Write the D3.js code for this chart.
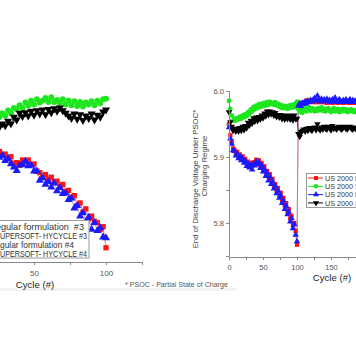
<!DOCTYPE html>
<html><head><meta charset="utf-8">
<script src="https://cdn.jsdelivr.net/npm/d3@7"></script>
<style>body{margin:0;background:#fff;}svg{display:block;font-family:"Liberation Sans",Arial,sans-serif;}text{white-space:pre;}</style>
</head><body>
<svg id="c" width="356" height="364"></svg>
<script>
// ---------- DATA ----------
const leftCycles = d3.range(0, 101, 2);
const leftRegular3 = [5.950,5.942,5.933,5.931,5.926,5.928,5.923,5.925,5.919,5.922,5.916,5.919,5.913,5.916,5.910,5.912,5.905,5.908,5.898,5.899,5.895,5.903,5.900,5.903,5.896,5.897,5.886,5.884,5.878,5.881,5.874,5.877,5.869,5.871,5.863,5.866,5.855,5.857,5.846,5.849,5.834,5.838,5.824,5.829,5.814,5.818,5.810,5.808,5.798,5.802,5.770];
const leftSuper3 = [5.975,5.963,5.964,5.958,5.963,5.960,5.965,5.962,5.967,5.964,5.969,5.966,5.971,5.968,5.974,5.970,5.978,5.974,5.982,5.980,5.986,5.982,5.990,5.986,5.993,5.987,5.995,5.990,5.993,5.997,5.991,5.998,5.991,5.994,5.989,5.995,5.987,5.993,5.986,5.992,5.985,5.991,5.984,5.990,5.987,5.992,5.986,5.993,5.989,5.995,5.996];
const leftRegular4 = [5.945,5.933,5.932,5.924,5.926,5.920,5.922,5.916,5.919,5.913,5.916,5.910,5.913,5.907,5.910,5.902,5.905,5.897,5.892,5.887,5.895,5.896,5.901,5.894,5.895,5.886,5.886,5.872,5.876,5.866,5.870,5.862,5.868,5.856,5.861,5.852,5.853,5.843,5.845,5.830,5.834,5.818,5.823,5.810,5.816,5.798,5.808,5.796,5.800,5.786,5.785];
const leftSuper4 = [5.965,5.953,5.952,5.946,5.951,5.948,5.953,5.949,5.954,5.951,5.956,5.952,5.957,5.953,5.958,5.955,5.962,5.958,5.968,5.964,5.974,5.969,5.975,5.970,5.977,5.971,5.978,5.973,5.979,5.972,5.980,5.975,5.981,5.977,5.982,5.978,5.974,5.970,5.966,5.973,5.965,5.972,5.963,5.970,5.966,5.973,5.964,5.971,5.968,5.976,5.979];
const leftLabels = ["Regular formulation  #3","SUPERSOFT- HYCYCLE #3","Regular formulation #4","SUPERSOFT- HYCYCLE #4"];
const leftTicks = [50, 100];

const rightCycles = d3.range(0, 191, 2);
const rightRegular1 = [5.950,5.933,5.924,5.913,5.911,5.905,5.908,5.901,5.904,5.898,5.901,5.894,5.897,5.890,5.893,5.888,5.891,5.886,5.892,5.891,5.896,5.893,5.895,5.888,5.891,5.884,5.886,5.878,5.879,5.871,5.874,5.865,5.867,5.857,5.859,5.850,5.853,5.843,5.846,5.835,5.838,5.827,5.830,5.818,5.821,5.807,5.811,5.797,5.800,5.788,5.767,
 5.982,5.980,5.981,5.982,5.983,5.982,5.984,5.986,5.985,5.984,5.983,5.985,5.984,5.983,5.985,5.984,5.983,5.984,5.985,5.983,5.984,5.982,5.983,5.984,5.983,5.982,5.983,5.984,5.983,5.982,5.983,5.984,5.983,5.982,5.983,5.984,5.983,5.982,5.983,5.982,5.983,5.982,5.983,5.982,5.983];
const rightSuper1 = [5.985,5.973,5.963,5.955,5.958,5.955,5.959,5.957,5.961,5.958,5.963,5.960,5.965,5.962,5.968,5.965,5.972,5.969,5.976,5.972,5.978,5.974,5.980,5.976,5.981,5.977,5.982,5.978,5.983,5.979,5.984,5.980,5.982,5.979,5.983,5.978,5.981,5.976,5.979,5.974,5.978,5.974,5.977,5.973,5.978,5.974,5.979,5.975,5.980,5.976,5.984,
 5.972,5.968,5.973,5.967,5.971,5.974,5.969,5.972,5.975,5.970,5.974,5.971,5.969,5.973,5.970,5.974,5.971,5.975,5.970,5.973,5.969,5.972,5.974,5.970,5.968,5.972,5.974,5.969,5.971,5.973,5.968,5.972,5.969,5.973,5.970,5.972,5.968,5.971,5.969,5.972,5.970,5.968,5.971,5.969,5.970];
const rightRegular2 = [5.945,5.928,5.920,5.910,5.909,5.902,5.905,5.898,5.901,5.895,5.898,5.891,5.894,5.886,5.890,5.884,5.888,5.881,5.889,5.887,5.893,5.889,5.892,5.883,5.887,5.878,5.882,5.871,5.876,5.864,5.870,5.859,5.863,5.852,5.856,5.845,5.849,5.838,5.842,5.830,5.834,5.821,5.826,5.813,5.817,5.802,5.807,5.792,5.798,5.782,5.772,
 5.978,5.981,5.977,5.982,5.980,5.984,5.981,5.985,5.983,5.986,5.984,5.987,5.989,5.985,5.993,5.987,5.984,5.988,5.985,5.987,5.984,5.988,5.985,5.986,5.983,5.987,5.984,5.990,5.985,5.983,5.987,5.985,5.983,5.986,5.984,5.987,5.983,5.985,5.987,5.983,5.986,5.984,5.985,5.983,5.985];
const rightSuper2 = [5.968,5.953,5.946,5.940,5.943,5.939,5.943,5.939,5.944,5.940,5.946,5.941,5.947,5.944,5.952,5.948,5.955,5.951,5.959,5.954,5.960,5.955,5.961,5.957,5.963,5.959,5.966,5.962,5.969,5.964,5.969,5.965,5.968,5.963,5.967,5.961,5.964,5.960,5.964,5.958,5.963,5.957,5.962,5.958,5.963,5.957,5.962,5.956,5.963,5.958,5.958,
 5.935,5.931,5.938,5.940,5.942,5.939,5.943,5.940,5.944,5.942,5.940,5.944,5.945,5.941,5.950,5.943,5.941,5.945,5.942,5.946,5.943,5.942,5.946,5.944,5.941,5.947,5.943,5.945,5.942,5.944,5.946,5.943,5.942,5.945,5.946,5.943,5.942,5.945,5.946,5.943,5.942,5.945,5.943,5.944,5.942];
const rightLabels = ["US 2000 Regular formulation #1","US 2000 SUPERSOFT- HYCYCLE #1","US 2000 Regular formulation #2","US 2000 SUPERSOFT- HYCYCLE #2"];
const rightXTicks = [0, 50, 100, 150, 200];
const rightYTicks = [5.8, 5.9, 6.0];
const colors = ["#ff1414", "#1ee61e", "#1a1aff", "#000000"];
const symbols = [d3.symbolSquare, d3.symbolCircle, d3.symbolTriangle, d3.symbolTriangle];
const yTitle1 = "End of Discharge Voltage Under PSOC*";
const yTitle2 = "Charging Regime";
const footnote = "* PSOC - Partial State of Charge";

// ---------- DRAW ----------
const svg = d3.select("#c");
const axisCol = "#8a8a8a", txtCol = "#3a3a3a";

svg.append("rect").attr("x",0).attr("y",288).attr("width",236).attr("height",3).attr("fill","#f3f3f3");

function drawSeries(g, x, y, cycles, series, size, lineW) {
  series.forEach((vals, i) => {
    const pts = cycles.map((c, k) => [c, vals[k]]);
    g.append("path").datum(pts)
      .attr("d", d3.line().x(d => x(d[0])).y(d => y(d[1])))
      .attr("fill","none").attr("stroke", i===2 ? "#8c7de6" : colors[i])
      .attr("stroke-opacity", 0.6).attr("stroke-width", lineW);
  });
  series.forEach((vals, i) => {
    const sym = d3.symbol().type(symbols[i]).size(size);
    g.selectAll(null).data(cycles.map((c,k)=>[c, vals[k]])).enter().append("path")
      .attr("d", sym)
      .attr("transform", d => `translate(${x(d[0])},${y(d[1])})${i===3?" rotate(180)":""}`)
      .attr("fill", colors[i]);
  });
}

// ===== LEFT CHART =====
const xL = d3.scaleLinear().domain([0,125]).range([-38,142]);
const yL = d3.scaleLinear().domain([5.75,6.0]).range([261,96]);
const gL = svg.append("g");
drawSeries(gL, xL, yL, leftCycles, [leftRegular3, leftSuper3, leftRegular4, leftSuper4], 28, 1);
const axL = gL.append("g").attr("transform","translate(0,262)")
  .call(d3.axisBottom(xL).tickValues([25,50,75,100,125]).tickSize(3).tickFormat(d => leftTicks.includes(d) ? d : ""));
axL.select(".domain").attr("stroke",axisCol);
axL.selectAll("line").attr("stroke",axisCol);
axL.selectAll("text").attr("fill","#555").attr("font-size","8px").attr("dy","0.95em");

const lg = gL.append("g");
lg.append("rect").attr("x",-20).attr("y",220.5).attr("width",109).attr("height",37.5)
  .attr("fill","#fff").attr("stroke","#999").attr("stroke-width",1);
const legFits = [[-10.7, 94.7], [-4.8, 91.8], [-10.7, 84.7], [-4.8, 91.8]];
leftLabels.forEach((t,i) => {
  lg.append("text").attr("x",legFits[i][0]).attr("y",229.5+i*9).text(t)
    .attr("textLength", legFits[i][1]).attr("lengthAdjust","spacingAndGlyphs")
    .attr("font-size","8.4px").attr("fill","#333");
});
svg.append("text").attr("x",35).attr("y",288).attr("text-anchor","middle")
  .attr("font-size","9.6px").attr("fill","#222").text("Cycle (#)");
svg.append("text").attr("x",125).attr("y",286.5).attr("font-size","7.1px").attr("fill","#555").text(footnote);

// ===== RIGHT CHART =====
const xR = d3.scaleLinear().domain([0,200]).range([229,365]);
const yR = d3.scaleLinear().domain([5.75,6.0]).range([256,91]);
const gR = svg.append("g");
drawSeries(gR, xR, yR, rightCycles, [rightRegular1, rightSuper1, rightRegular2, rightSuper2], 18, 1);
const axRx = gR.append("g").attr("transform","translate(0,257)")
  .call(d3.axisBottom(xR).tickValues([0,25,50,75,100,125,150,175,200]).tickSize(3).tickFormat(d => rightXTicks.includes(d) ? d : ""));
const axRy = gR.append("g").attr("transform","translate(229,0)")
  .call(d3.axisLeft(yR).tickValues([5.75,5.8,5.85,5.9,5.95,6.0]).tickSize(3).tickFormat(d => rightYTicks.some(v=>Math.abs(v-d)<1e-9) ? d3.format(".1f")(d) : ""));
[axRx, axRy].forEach(a => {
  a.select(".domain").attr("stroke",axisCol);
  a.selectAll("line").attr("stroke",axisCol);
  a.selectAll("text").attr("fill","#555").attr("font-size","7.6px");
});
axRx.selectAll("text").attr("dy","0.95em");
axRy.selectAll("text").attr("x",-5);

svg.append("text").attr("transform","translate(198,179) rotate(-90)").attr("text-anchor","middle")
  .attr("font-size","7.8px").attr("fill",txtCol).text(yTitle1);
svg.append("text").attr("transform","translate(207,166) rotate(-90)").attr("text-anchor","middle")
  .attr("font-size","7.8px").attr("fill",txtCol).text(yTitle2);
svg.append("text").attr("x",332).attr("y",281).attr("text-anchor","middle")
  .attr("font-size","9.6px").attr("fill","#222").text("Cycle (#)");

const rg = svg.append("g");
rg.append("rect").attr("x",306.5).attr("y",173.5).attr("width",120).attr("height",34)
  .attr("fill","#fff").attr("stroke","#999");
rightLabels.forEach((t,i) => {
  const yy = 178 + i*8.3;
  rg.append("line").attr("x1",308).attr("x2",323).attr("y1",yy).attr("y2",yy).attr("stroke",colors[i]).attr("stroke-width",1);
  rg.append("path").attr("d", d3.symbol().type(symbols[i]).size(16))
    .attr("transform",`translate(316,${yy})${i===3?" rotate(180)":""}`).attr("fill",colors[i]);
  rg.append("text").attr("x",325).attr("y",yy+2.7).attr("font-size","7.2px").attr("fill","#333").text(t);
});
</script>
</body></html>
